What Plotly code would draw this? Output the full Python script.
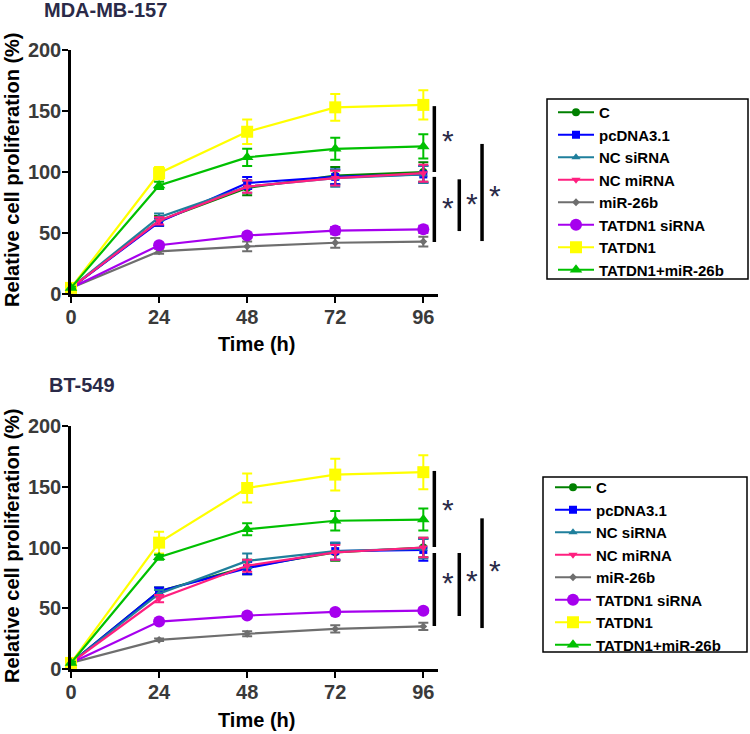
import plotly.graph_objects as go

# ---------------- data ----------------
time_h = [0, 24, 48, 72, 96]
groups = ["C", "pcDNA3.1", "NC siRNA", "NC miRNA", "miR-26b",
          "TATDN1 siRNA", "TATDN1", "TATDN1+miR-26b"]

# MDA-MB-157
mda_C = [5, 60, 87, 97, 100]
mda_pc = [5, 59, 91, 96, 98]
mda_ncsi = [5, 63, 88, 95, 98]
mda_ncmi = [5, 60, 88, 95, 99]
mda_mir = [5, 35, 39, 42, 43]
mda_tsi = [5, 40, 48, 52, 53]
mda_t = [5, 99, 133, 153, 155]
mda_tm = [5, 89, 112, 119, 121]

mda_C_err = [1, 4, 6, 7, 8]
mda_pc_err = [1, 3, 5, 6, 7]
mda_ncsi_err = [1, 3, 5, 7, 7]
mda_ncmi_err = [1, 3, 5, 6, 7]
mda_mir_err = [1, 2, 4, 4, 4]
mda_tsi_err = [1, 2, 2, 3, 3]
mda_t_err = [1, 5, 10, 11, 12]
mda_tm_err = [1, 3, 7, 9, 10]

# BT-549
bt_C = [5, 64, 84, 96, 100]
bt_pc = [5, 64, 83, 97, 98]
bt_ncsi = [5, 62, 89, 97, 99]
bt_ncmi = [5, 58, 85, 96, 100]
bt_mir = [5, 24, 29, 33, 35]
bt_tsi = [5, 39, 44, 47, 48]
bt_t = [5, 104, 149, 160, 162]
bt_tm = [5, 92, 115, 122, 123]

bt_C_err = [1, 3, 6, 7, 8]
bt_pc_err = [1, 3, 5, 7, 9]
bt_ncsi_err = [1, 3, 6, 7, 8]
bt_ncmi_err = [1, 3, 5, 6, 8]
bt_mir_err = [1, 1, 2, 3, 3]
bt_tsi_err = [1, 1, 2, 2, 2]
bt_t_err = [1, 9, 12, 13, 14]
bt_tm_err = [1, 2, 5, 8, 9]

y_ticks = [0, 50, 100, 150, 200]
x_ticks = [0, 24, 48, 72, 96]

# significance brackets: (x in hours beyond axis, y bottom, y top)
mda_brackets = [(99, 100, 154), (99, 42.6, 96), (105.8, 51.6, 94), (112, 43.4, 123)]
mda_stars = [(102.6, 126), (102.6, 70.5), (109.2, 74), (115.6, 81)]
bt_brackets = [(99, 100.4, 163), (99, 35.4, 95.5), (105.8, 43.6, 95.5), (112, 33.7, 124)]
bt_stars = [(102.6, 131), (102.6, 71), (109.2, 73), (115.6, 81)]

# ---------------- styles ----------------
colors = ["#008000", "#0000FF", "#1F7F9C", "#FF1F7F", "#6E6E6E",
          "#A600EE", "#FFFF00", "#00C000"]
symbols = ["circle", "square", "triangle-up", "triangle-down", "diamond",
           "circle", "square", "triangle-up"]
msizes = [8, 8, 8, 8, 6, 12, 12, 11]

mda_vals = [mda_C, mda_pc, mda_ncsi, mda_ncmi, mda_mir, mda_tsi, mda_t, mda_tm]
mda_errs = [mda_C_err, mda_pc_err, mda_ncsi_err, mda_ncmi_err, mda_mir_err,
            mda_tsi_err, mda_t_err, mda_tm_err]
bt_vals = [bt_C, bt_pc, bt_ncsi, bt_ncmi, bt_mir, bt_tsi, bt_t, bt_tm]
bt_errs = [bt_C_err, bt_pc_err, bt_ncsi_err, bt_ncmi_err, bt_mir_err,
           bt_tsi_err, bt_t_err, bt_tm_err]

W, H = 750, 734

def xp(px):
    return px / W

def yp(py):
    return 1 - py / H

XDOM = [xp(71), xp(438)]
YDOM1 = [yp(294), yp(50)]
YDOM2 = [yp(669), yp(426)]
XMAX = 100

FONT = "Liberation Sans, Arial, sans-serif"

fig = go.Figure()

def add_panel(vals, errs, xa, ya, legend):
    for i, g in enumerate(groups):
        fig.add_trace(go.Scatter(
            x=time_h, y=vals[i], name=g, mode="lines+markers",
            xaxis=xa, yaxis=ya, legend=legend,
            line=dict(color=colors[i], width=2.2),
            marker=dict(color=colors[i], symbol=symbols[i], size=msizes[i],
                        line=dict(width=0)),
            error_y=dict(type="data", array=errs[i], visible=True,
                         color=colors[i], thickness=2, width=5),
            cliponaxis=False,
        ))

add_panel(mda_vals, mda_errs, "x", "y", "legend")
add_panel(bt_vals, bt_errs, "x2", "y2", "legend2")

axis_common = dict(
    showline=True, linecolor="black", linewidth=2.5,
    ticks="outside", ticklen=6, tickwidth=2, tickcolor="black",
    showgrid=False, zeroline=False, automargin=False,
    ticklabelstandoff=-3,
    tickfont=dict(family=FONT, size=20, color="#3a3a3a", weight="bold"),
)

legend_common = dict(
    xanchor="left", yanchor="top",
    borderwidth=0, bgcolor="rgba(0,0,0,0)",
    font=dict(family=FONT, size=15, color="black", weight="bold"),
    tracegroupgap=0, itemwidth=36,
)

fig.update_layout(
    template="none",
    width=W, height=H, margin=dict(l=0, r=0, t=0, b=0, autoexpand=False),
    plot_bgcolor="white", paper_bgcolor="white",
    font=dict(family=FONT),
    xaxis=dict(domain=XDOM, range=[0, XMAX], tickvals=x_ticks, anchor="y", **axis_common),
    yaxis=dict(domain=YDOM1, range=[0, 200], tickvals=y_ticks, anchor="x", **axis_common),
    xaxis2=dict(domain=XDOM, range=[0, XMAX], tickvals=x_ticks, anchor="y2", **axis_common),
    yaxis2=dict(domain=YDOM2, range=[0, 200], tickvals=y_ticks, anchor="x2", **axis_common),
    legend=dict(x=xp(553), y=yp(96), **legend_common),
    legend2=dict(x=xp(550), y=yp(471), **legend_common),
)

def hx(h):
    return XDOM[0] + h / XMAX * (XDOM[1] - XDOM[0])

shapes = []
annos = []
# legend frames
for (x0, y0, x1, y1) in [(547, 99, 748, 279), (543, 477, 747, 652)]:
    shapes.append(dict(type="rect", xref="paper", yref="paper",
                       x0=xp(x0), x1=xp(x1), y0=yp(y1), y1=yp(y0),
                       line=dict(color="black", width=1.5), fillcolor="rgba(0,0,0,0)"))

for brs, sts, yr in [(mda_brackets, mda_stars, "y"), (bt_brackets, bt_stars, "y2")]:
    for (bx, y0, y1) in brs:
        shapes.append(dict(type="line", xref="paper", yref=yr,
                           x0=hx(bx), x1=hx(bx), y0=y0, y1=y1,
                           line=dict(color="black", width=3.5)))
    for (sx, sy) in sts:
        annos.append(dict(xref="paper", yref=yr, x=hx(sx), y=sy, text="*",
                          showarrow=False, xanchor="center", yanchor="middle",
                          font=dict(family=FONT, size=30, color="#2a2a48")))

# panel titles
annos.append(dict(xref="paper", yref="paper", x=xp(42), y=yp(10), text="<b>MDA-MB-157</b>",
                  showarrow=False, xanchor="left", yanchor="middle",
                  font=dict(family=FONT, size=20, color="#2a2a48")))
annos.append(dict(xref="paper", yref="paper", x=xp(47), y=yp(385), text="<b>BT-549</b>",
                  showarrow=False, xanchor="left", yanchor="middle",
                  font=dict(family=FONT, size=20, color="#2a2a48")))
# axis titles
for yc_t, yc_y in [(344, 170), (720, 546)]:
    annos.append(dict(xref="paper", yref="paper", x=xp(256), y=yp(yc_t), text="<b>Time (h)</b>",
                      showarrow=False, xanchor="center", yanchor="middle",
                      font=dict(family=FONT, size=20, color="black")))
    annos.append(dict(xref="paper", yref="paper", x=xp(12), y=yp(yc_y),
                      text="<b>Relative cell proliferation (%)</b>", textangle=-90,
                      showarrow=False, xanchor="center", yanchor="middle",
                      font=dict(family=FONT, size=20, color="black")))

fig.update_layout(shapes=shapes, annotations=annos)
# remove the default 8px page margin so the figure sits at the window corner
fig.write_html("out.html", config={"displayModeBar": False},
               post_script="document.body.style.margin='0';")
